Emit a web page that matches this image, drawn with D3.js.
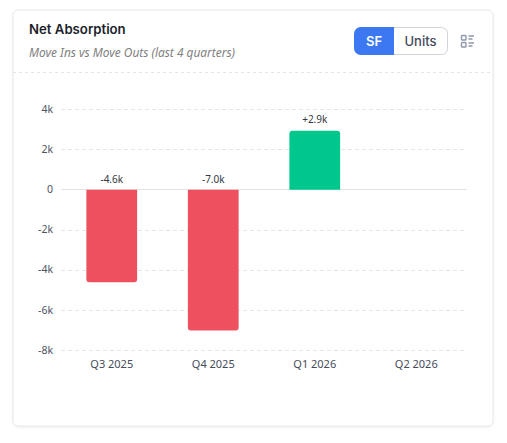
<!DOCTYPE html>
<html><head><meta charset="utf-8">
<script src="https://cdn.jsdelivr.net/npm/d3@7/dist/d3.min.js"></script>
<style>
html,body{margin:0;padding:0;background:#fff;}
svg{display:block;}
</style></head><body>
<svg id="c" width="507" height="443"></svg>
<script>
const categories=["Q3 2025","Q4 2025","Q1 2026","Q2 2026"];
const values=[-4600,-7000,2940,null];
const labels=["-4.6k","-7.0k","+2.9k",""];
const tickValues=[4000,2000,0,-2000,-4000,-6000,-8000];
const title="Net Absorption";
const subtitle="Move Ins vs Move Outs (last 4 quarters)";
const toggles=["SF","Units"];

const svg=d3.select("#c");
const bodyFont="'Noto Sans','Open Sans',sans-serif";
const headFont="Inter,'Noto Sans',sans-serif";

const defs=svg.append("defs");
const f=defs.append("filter").attr("id","sh").attr("x","-5%").attr("y","-5%").attr("width","110%").attr("height","110%");
f.append("feDropShadow").attr("dx",0).attr("dy",1).attr("stdDeviation",1).attr("flood-color","#101828").attr("flood-opacity",0.07);

svg.append("rect").attr("x",13).attr("y",10).attr("width",480).attr("height",416).attr("rx",5)
  .attr("fill","#fff").attr("stroke","#e7e8ee").attr("filter","url(#sh)");

svg.append("text").attr("x",29).attr("y",34).attr("font-family",headFont).attr("font-size",13.2).attr("font-weight",600).attr("fill","#1b1f2b").text(title);
svg.append("text").attr("x",29).attr("y",57).attr("font-family",bodyFont).attr("font-size",11.9).attr("font-style","italic").attr("fill","#808080").text(subtitle);
svg.append("line").attr("x1",13).attr("x2",493).attr("y1",72.5).attr("y2",72.5).attr("stroke","#e5e5e5").attr("stroke-dasharray","3 3");

// toggle
svg.append("rect").attr("x",354.5).attr("y",27.5).attr("width",93).attr("height",27).attr("rx",6).attr("fill","#fff").attr("stroke","#d0d3da");
svg.append("path").attr("d","M394,27H361a7,7 0 0 0 -7,7V48a7,7 0 0 0 7,7H394Z").attr("fill","#3b78f2");
svg.append("text").attr("x",374).attr("y",46).attr("text-anchor","middle").attr("font-family",headFont).attr("font-size",13).attr("font-weight",600).attr("fill","#fff").text(toggles[0]);
svg.append("text").attr("x",420.5).attr("y",46).attr("text-anchor","middle").attr("font-family",headFont).attr("font-size",13).attr("font-weight",500).attr("fill","#454b5a").text(toggles[1]);

// list icon
const ic=svg.append("g").attr("fill","none").attr("stroke","#8f99ab").attr("stroke-width",1.4);
ic.append("rect").attr("x",461.5).attr("y",35.5).attr("width",4.5).attr("height",4.5).attr("rx",.8);
ic.append("rect").attr("x",461.5).attr("y",42.5).attr("width",4.5).attr("height",4.5).attr("rx",.8);
ic.append("path").attr("d","M468.5,36H474M468.5,39H472.5M468.5,43H474M468.5,46H472.5");

const x=d3.scaleBand().domain(categories).range([61,467]).paddingInner(0.5).paddingOuter(0.25);
const y=d3.scaleLinear().domain([-8000,4000]).range([350.5,109.5]);

const grid=svg.append("g");
grid.selectAll("line").data(tickValues).join("line")
  .attr("x1",61).attr("x2",467)
  .attr("y1",d=>Math.floor(y(d))+.5).attr("y2",d=>Math.floor(y(d))+.5)
  .attr("stroke",d=>d===0?"#e3e3e6":"#e6e6e6")
  .attr("stroke-dasharray",d=>d===0?null:"4 3");

const yAxis=d3.axisLeft(y).tickValues(tickValues).tickSize(0).tickPadding(0)
  .tickFormat(d=>d===0?"0":(d/1000)+"k");
const gy=svg.append("g").attr("transform","translate(53,-0.7)").call(yAxis);
gy.select(".domain").remove();
gy.selectAll("text").attr("font-family",bodyFont).attr("font-size",10.5).attr("fill","#4d525e");

const xAxis=d3.axisBottom(x).tickSize(0).tickPadding(0);
const gx=svg.append("g").attr("transform","translate(0,360.5)").call(xAxis);
gx.select(".domain").remove();
gx.selectAll("text").attr("font-family",bodyFont).attr("font-size",11).attr("fill","#454b5a");

function barPath(d,i){
  const x0=x(categories[i]),x1=x0+x.bandwidth(),z=y(0),v=y(d),r=3;
  if(d<0) return `M${x0},${z}H${x1}V${v-r}Q${x1},${v} ${x1-r},${v}H${x0+r}Q${x0},${v} ${x0},${v-r}Z`;
  return `M${x0},${z}H${x1}V${v+r}Q${x1},${v} ${x1-r},${v}H${x0+r}Q${x0},${v} ${x0},${v+r}Z`;
}
svg.append("g").selectAll("path").data(values).join("path")
  .attr("display",d=>d==null?"none":null)
  .attr("d",(d,i)=>d==null?null:barPath(d,i))
  .attr("fill",d=>d<0?"#ee5060":"#00c88c");

svg.append("g").selectAll("text").data(values).join("text")
  .attr("x",(d,i)=>x(categories[i])+x.bandwidth()/2)
  .attr("y",d=>d==null?0:(d<0?y(0)-7:y(d)-8))
  .attr("text-anchor","middle").attr("font-family",bodyFont).attr("font-size",10).attr("fill","#333844")
  .text((d,i)=>labels[i]);
</script>
</body></html>
